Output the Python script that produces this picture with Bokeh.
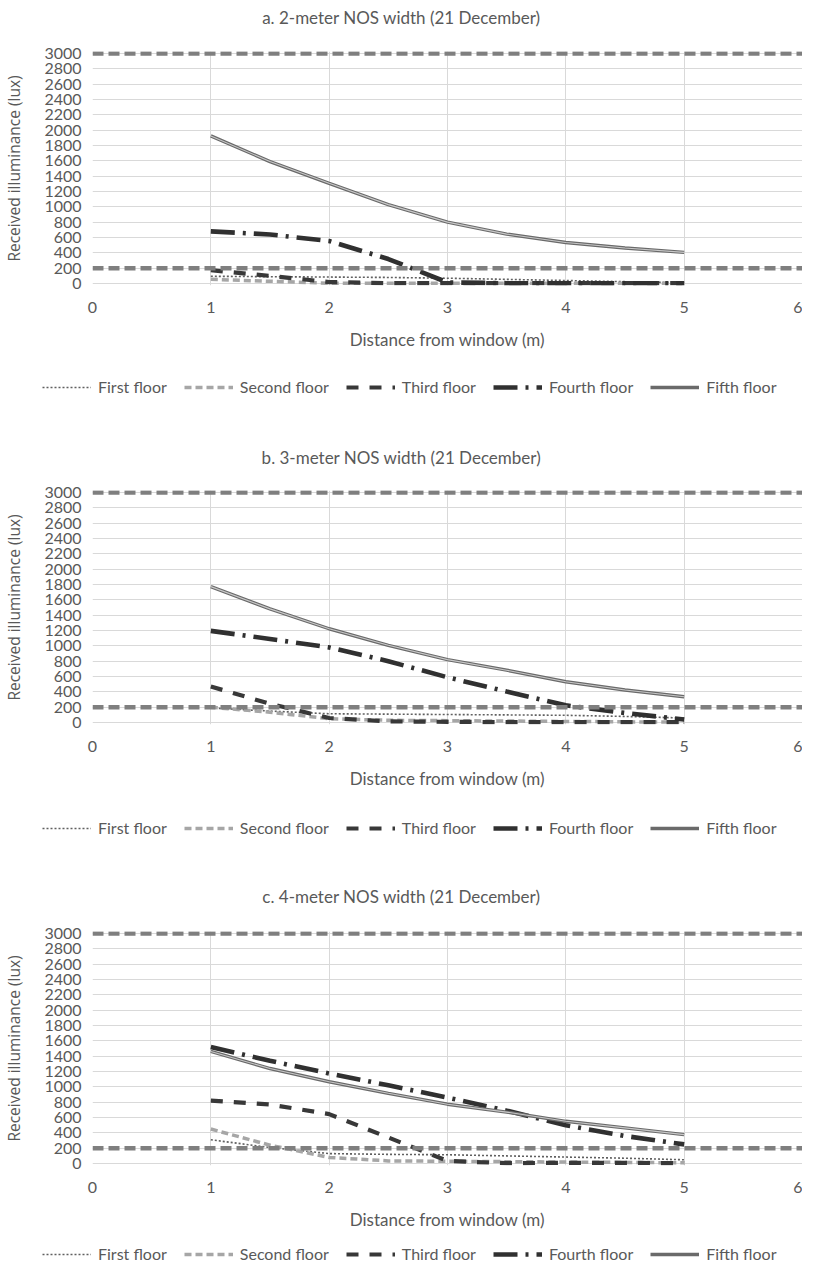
from bokeh.plotting import figure
from bokeh.models import Range1d, Span, Legend, LegendItem, FixedTicker, Label
from bokeh.layouts import column
from bokeh.embed import file_html
from bokeh.resources import INLINE

# ---------------- data ----------------
distance = [1, 1.5, 2, 2.5, 3, 3.5, 4, 4.5, 5]
floor_names = ["First floor", "Second floor", "Third floor", "Fourth floor", "Fifth floor"]
thresholds = [200, 3000]
x_ticks = [0, 1, 2, 3, 4, 5, 6]
y_ticks = [0, 200, 400, 600, 800, 1000, 1200, 1400, 1600, 1800, 2000,
           2200, 2400, 2600, 2800, 3000]
panel_titles = ["a. 2-meter NOS width (21 December)",
                "b. 3-meter NOS width (21 December)",
                "c. 4-meter NOS width (21 December)"]
x_title = "Distance from window (m)"
y_title = "Received illuminance (lux)"

# panel a (2 m)
a_first = [95, 90, 85, 80, 70, 55, 40, 25, 10]
a_second = [55, 30, 5, 3, 3, 3, 3, 3, 3]
a_third = [175, 100, 20, 5, 5, 5, 5, 5, 5]
a_fourth = [680, 640, 555, 320, 15, 5, 5, 5, 5]
a_fifth = [1925, 1590, 1307, 1029, 801, 645, 536, 463, 407]

# panel b (3 m)
b_first = [190, 150, 115, 110, 105, 100, 95, 80, 60]
b_second = [200, 135, 50, 30, 25, 20, 15, 10, 5]
b_third = [470, 245, 60, 15, 10, 5, 5, 5, 5]
b_fourth = [1195, 1090, 980, 800, 590, 405, 225, 125, 40]
b_fifth = [1772, 1482, 1223, 1007, 821, 683, 532, 424, 337]

# panel c (4 m)
c_first = [310, 210, 130, 120, 115, 100, 85, 70, 50]
c_second = [450, 240, 80, 35, 30, 25, 20, 15, 10]
c_third = [820, 770, 645, 340, 35, 5, 10, 10, 5]
c_fourth = [1520, 1340, 1175, 1020, 860, 690, 500, 360, 250]
c_fifth = [1462, 1239, 1067, 916, 774, 671, 551, 465, 378]

panels_data = [
    [a_first, a_second, a_third, a_fourth, a_fifth],
    [b_first, b_second, b_third, b_fourth, b_fifth],
    [c_first, c_second, c_third, c_fourth, c_fifth],
]

# ---------------- styles ----------------
TXT = "#595959"
FONT = "Lato"
styles = [
    dict(line_color="#606060", line_width=1.6, line_dash="2 2"),
    dict(line_color="#a6a6a6", line_width=3.5, line_dash="7 4"),
    dict(line_color="#383838", line_width=4.2, line_dash="12 11"),
    dict(line_color="#303030", line_width=4.6, line_dash="24 8 3 8"),
    dict(line_color="#6a6a6a", line_width=3.4),
]

# per-panel layout: (title strip height, title y, top border, bottom border,
#                    legend strip height, legend y)
FRAME_H = 234
layouts = [
    (38, 0.553, 13, 80, 75, 44),
    (30, 0.433, 20, 80, 76, 43),
    (26, 0.385, 25, 76, 22, 0),
]


def strip(height):
    s = figure(width=802, height=height, x_range=Range1d(0, 1), y_range=Range1d(0, 1),
               output_backend="svg", toolbar_location=None,
               x_axis_location=None, y_axis_location=None,
               min_border=0, min_border_left=0, min_border_right=0,
               min_border_top=0, min_border_bottom=0)
    s.frame_align = False
    s.outline_line_color = None
    s.xgrid.visible = False
    s.ygrid.visible = False
    return s


def make_panel(title, series, t_h, t_y, top, bottom, leg_h, leg_y):
    # title strip
    ts = strip(t_h)
    ts.add_layout(Label(x=0.5, y=t_y, text=title, text_align="center",
                        text_baseline="middle", text_font=FONT,
                        text_font_size="17px", text_color=TXT))

    p = figure(width=802, height=top + FRAME_H + bottom,
               x_range=Range1d(0, 6), y_range=Range1d(-25, 3025),
               output_backend="svg", toolbar_location=None,
               min_border_left=82, min_border_right=0,
               min_border_top=top, min_border_bottom=bottom)
    p.frame_align = False
    p.outline_line_color = None
    p.background_fill_color = "white"

    # axes
    p.xaxis.ticker = FixedTicker(ticks=x_ticks)
    p.yaxis.ticker = FixedTicker(ticks=y_ticks)
    for ax in (p.xaxis[0], p.yaxis[0]):
        ax.axis_line_color = None
        ax.major_tick_line_color = None
        ax.minor_tick_line_color = None
        ax.major_tick_out = 0
        ax.major_label_text_font = FONT
        ax.major_label_text_font_size = "16px"
        ax.major_label_text_color = TXT
    p.xaxis.major_label_standoff = 16
    p.yaxis.major_label_standoff = 11
    p.xaxis.axis_label = x_title
    p.xaxis.axis_label_text_font = FONT
    p.xaxis.axis_label_text_font_size = "17px"
    p.xaxis.axis_label_text_font_style = "normal"
    p.xaxis.axis_label_text_color = TXT
    p.xaxis.axis_label_standoff = 13
    p.yaxis.axis_label = y_title
    p.yaxis.axis_label_text_font = "Open Sans"
    p.yaxis.axis_label_text_font_size = "15.5px"
    p.yaxis.axis_label_text_font_style = "normal"
    p.yaxis.axis_label_text_color = TXT
    p.yaxis.axis_label_standoff = 16

    p.xgrid.ticker = FixedTicker(ticks=x_ticks)
    p.ygrid.ticker = FixedTicker(ticks=y_ticks)
    p.xgrid.grid_line_color = "#d9d9d9"
    p.ygrid.grid_line_color = "#d9d9d9"

    # threshold lines
    for t in thresholds:
        p.add_layout(Span(location=t, dimension="width", line_color="#7f7f7f",
                          line_width=4.5, line_dash="11 5"))

    for name, vals, st in zip(floor_names, series, styles):
        p.line(distance, vals, **st)
        if name == "Fifth floor":
            p.line(distance, vals, line_color="#c8c8c8", line_width=1.1)

    # legend strip below the chart
    lg = strip(leg_h)
    items = []
    for name, st in zip(floor_names, styles):
        # legend proxies: placed outside the visible range, only used for the key
        r = lg.line([-5, -4], [-5, -4], **st)
        items.append(LegendItem(label=name, renderers=[r]))
    leg = Legend(items=items, orientation="horizontal", location=(42, leg_y),
                 border_line_color=None, background_fill_alpha=0,
                 label_text_font=FONT, label_text_font_size="16px",
                 label_text_color=TXT, glyph_width=49, glyph_height=18,
                 label_standoff=7, spacing=17, padding=0, margin=0,
                 label_height=18)
    lg.add_layout(leg, "center")
    return [ts, p, lg]


figs = []
for title, series, lay in zip(panel_titles, panels_data, layouts):
    figs.extend(make_panel(title, series, *lay))

layout = column(*figs, spacing=0)
open("out.html", "w").write(file_html(layout, INLINE))
